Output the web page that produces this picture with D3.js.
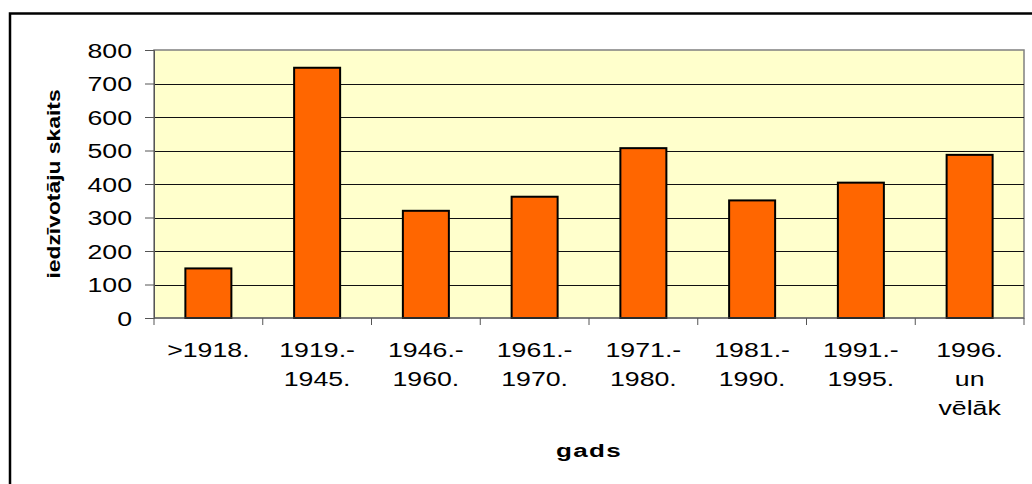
<!DOCTYPE html>
<html lang="lv">
  <head>
    <title>iedzivotaju skaits pa gadiem</title>
    <meta charset="utf-8">
    <script src="https://d3js.org/d3.v7.min.js"></script>
    <style>
      body { margin: 0; background: white; }
      text { font-family: Arial, "Liberation Sans", sans-serif; fill: #000; }
      .tick text { font-size: 19.5px; }
      .bar { fill: #ff6600; stroke: #000; stroke-width: 2; }
      .grid line { stroke: #111; stroke-width: 1; shape-rendering: crispEdges; }
      .title { font-size: 19px; font-weight: bold; }
    </style>
  </head>
  <body>
    <script>

    var categories = [[">1918."], ["1919.-", "1945."], ["1946.-", "1960."], ["1961.-", "1970."],
                      ["1971.-", "1980."], ["1981.-", "1990."], ["1991.-", "1995."], ["1996.", "un", "vēlāk"]];
    var values = [148, 747, 320, 362, 507, 351, 404, 487];
    var yTicks = [0, 100, 200, 300, 400, 500, 600, 700, 800];

    var W = 1032, H = 484;
    var margin = {top: 50, right: 8, bottom: 166, left: 154};
    var w = W - margin.left - margin.right;
    var h = H - margin.top - margin.bottom;
    var stretch = 1.37;   // the original text is drawn wide

    var svg = d3.select("body")
                .append("svg")
                .attr("width", W)
                .attr("height", H);

    // outer chart frame, runs off the bottom/right of the picture
    svg.append("rect")
       .attr("x", 10).attr("y", 13.5)
       .attr("width", W + 20).attr("height", H + 20)
       .attr("fill", "white")
       .attr("stroke", "#000")
       .attr("stroke-width", 2.5);

    var g = svg.append("g")
               .attr("transform", "translate(" + margin.left + "," + margin.top + ")");

    var xS = d3.scaleBand()
               .domain(d3.range(categories.length))
               .range([0, w])
               .paddingInner(0.577)
               .paddingOuter(0.2885);

    var yS = d3.scaleLinear()
               .domain([0, 800])
               .range([h, 0]);

    g.append("rect")
     .attr("width", w).attr("height", h)
     .attr("fill", "#ffffcc")
     .attr("stroke", "#808080")
     .attr("stroke-width", 1.5);

    g.append("g")
     .attr("class", "grid")
     .selectAll("line")
     .data(yTicks.slice(1, -1))
     .enter()
     .append("line")
     .attr("x1", 0).attr("x2", w)
     .attr("y1", function(d) { return Math.round(yS(d)) + 0.5; })
     .attr("y2", function(d) { return Math.round(yS(d)) + 0.5; });

    g.selectAll(".bar")
     .data(values)
     .enter()
     .append("rect")
     .attr("class", "bar")
     .attr("x", function(d, i) { return xS(i); })
     .attr("width", xS.bandwidth())
     .attr("y", function(d) { return yS(d); })
     .attr("height", function(d) { return h - yS(d); });

    // y axis
    var yAxis = g.append("g")
                 .call(d3.axisLeft(yS).tickValues(yTicks).tickSize(9).tickPadding(0));
    yAxis.select(".domain").attr("stroke", "#555");
    yAxis.selectAll(".tick line").attr("stroke", "#555");
    yAxis.selectAll(".tick text")
         .attr("x", null).attr("dy", null)
         .attr("transform", "translate(-22,7) scale(" + stretch + ",1)");

    // x axis, ticks on the category borders
    var xAxis = g.append("g")
                 .attr("transform", "translate(0," + h + ")");
    xAxis.append("line")
         .attr("x1", 0).attr("x2", w)
         .attr("stroke", "#555");
    xAxis.selectAll(".xt")
         .data(d3.range(categories.length + 1))
         .enter()
         .append("line")
         .attr("x1", function(i) { return i * xS.step(); })
         .attr("x2", function(i) { return i * xS.step(); })
         .attr("y2", 7)
         .attr("stroke", "#555");

    xAxis.selectAll(".xlab")
         .data(categories)
         .enter()
         .append("text")
         .attr("class", "xlab")
         .style("font-size", "19.5px")
         .attr("text-anchor", "middle")
         .attr("transform", function(d, i) {
            return "translate(" + (xS(i) + xS.bandwidth() / 2) + ",39) scale(" + stretch + ",1)";
         })
         .selectAll("tspan")
         .data(function(d) { return d; })
         .enter()
         .append("tspan")
         .attr("x", 0)
         .attr("y", function(d, j) { return j * 29; })
         .text(function(d) { return d; });

    svg.append("text")
       .attr("class", "title")
       .attr("text-anchor", "middle")
       .attr("transform", "translate(" + (margin.left + w / 2) + ",457) scale(" + stretch + ",1)")
       .style("letter-spacing", "1px")
       .text("gads");

    svg.append("text")
       .attr("class", "title")
       .style("font-size", "18px")
       .attr("text-anchor", "middle")
       .attr("transform", "translate(60," + (margin.top + h / 2) + ") rotate(-90) scale(1.27,1)")
       .text("iedzīvotāju skaits");

    </script>
  </body>
</html>
